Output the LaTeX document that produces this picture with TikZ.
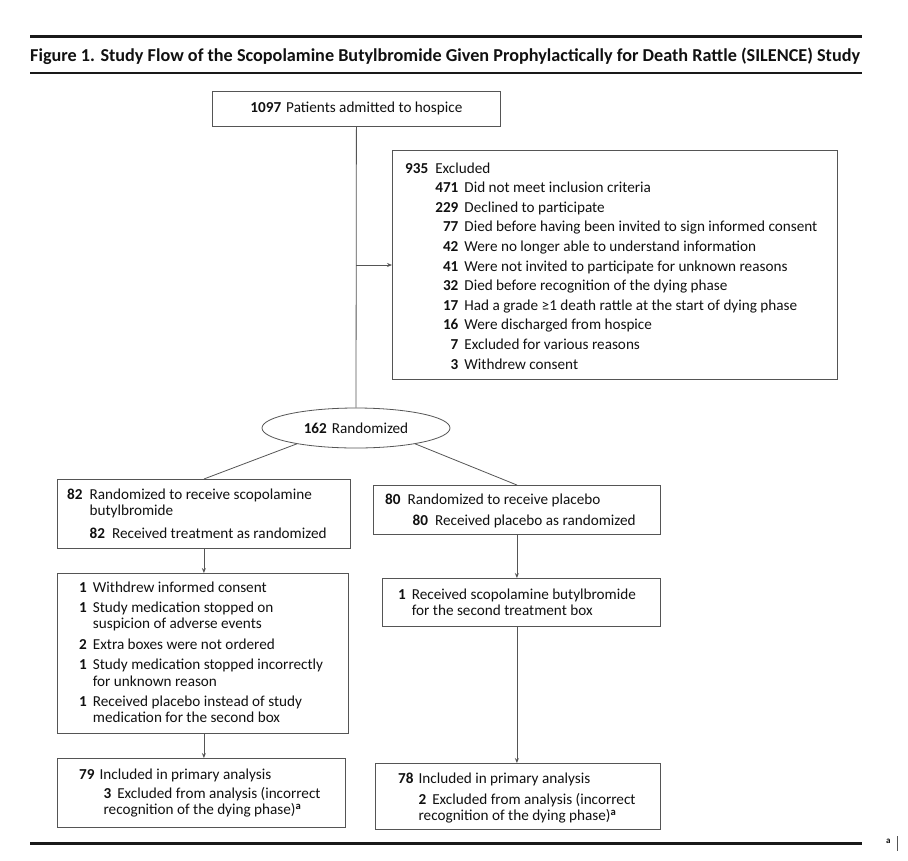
\documentclass[tikz,border=0pt]{standalone}
\usepackage{fontspec}
\setmainfont{Carlito}
\usetikzlibrary{shapes.geometric,arrows.meta}
\definecolor{ln}{HTML}{555555}
\definecolor{tx}{HTML}{111111}
\newcommand\bodyfnt{\fontsize{15.2}{16.7}\selectfont}
\newcommand\ttlfnt{\fontsize{18.2}{20}\selectfont\bfseries}
\begin{document}
\begin{tikzpicture}[x=1pt,y=-1pt,
  box/.style={draw=ln, line width=0.8pt, fill=white, inner sep=0pt, anchor=north west},
  txt/.style={anchor=base west, inner sep=0pt, text=tx, font=\bodyfnt},
  link/.style={draw=ln, line width=0.8pt},
  arr/.style={link, -{Stealth[length=5pt,width=4pt]}},
  rulethick/.style={draw=black!90, line width=3pt},
  rulethin/.style={draw=black!90, line width=2pt}
]
\useasboundingbox[fill=white] (0,0) rectangle (908,860);

% rules and title
\draw[rulethick] (30,36) -- (862,36);
\node[anchor=base west, inner sep=0pt, text=tx, font=\ttlfnt] (title) at (30,61)
  {Figure 1. Study Flow of the Scopolamine Butylbromide Given Prophylactically for Death Rattle (SILENCE) Study};
\draw[rulethin] (30,73) -- (862,73);
\draw[rulethick] (30,843) -- (862,843);
\node[anchor=base west, inner sep=0pt, text=tx, font=\fontsize{9}{9}\selectfont\bfseries] (fna) at (886,843) {a};
\draw[link] (897,836) -- (897,851);

% boxes
\node[box, minimum width=288pt, minimum height=35pt] (adm) at (212,91) {};
\node[txt, anchor=center] (admt) at (adm.center) {\textbf{1097}\hspace{5pt}Patients admitted to hospice};

\node[box, minimum width=445pt, minimum height=229pt] (exc) at (392,150) {};
\node[txt] (exct) at (405,173) {\begin{tabular}[t]{@{}r@{\hspace{7pt}}r@{\hspace{6pt}}l@{}}
\textbf{935} & \multicolumn{2}{@{}l@{}}{Excluded}\\[2.9pt]
& \textbf{471} & Did not meet inclusion criteria\\[2.9pt]
& \textbf{229} & Declined to participate\\[2.9pt]
& \textbf{77} & Died before having been invited to sign informed consent\\[2.9pt]
& \textbf{42} & Were no longer able to understand information\\[2.9pt]
& \textbf{41} & Were not invited to participate for unknown reasons\\[2.9pt]
& \textbf{32} & Died before recognition of the dying phase\\[2.9pt]
& \textbf{17} & Had a grade ≥1 death rattle at the start of dying phase\\[2.9pt]
& \textbf{16} & Were discharged from hospice\\[2.9pt]
& \textbf{7} & Excluded for various reasons\\[2.9pt]
& \textbf{3} & Withdrew consent
\end{tabular}};

\node[draw=ln, line width=0.8pt, ellipse, fill=white, minimum width=188pt, minimum height=40pt, inner sep=0pt, text=tx, font=\bodyfnt] (rand) at (356,428) {\textbf{162}\hspace{5pt}Randomized};

\node[box, minimum width=293pt, minimum height=69pt] (lb1) at (57,479) {};
\node[txt] (lb1t) at (67,499) {\begin{tabular}[t]{@{}r@{\hspace{7pt}}r@{\hspace{7pt}}l@{}}
\textbf{82} & \multicolumn{2}{@{}l@{}}{Randomized to receive scopolamine}\\
& \multicolumn{2}{@{}l@{}}{butylbromide}\\[6pt]
& \textbf{82} & Received treatment as randomized
\end{tabular}};

\node[box, minimum width=287pt, minimum height=49pt] (rb1) at (373,485) {};
\node[txt] (rb1t) at (385,504) {\begin{tabular}[t]{@{}r@{\hspace{7pt}}r@{\hspace{7pt}}l@{}}
\textbf{80} & \multicolumn{2}{@{}l@{}}{Randomized to receive placebo}\\[4.3pt]
& \textbf{\hspace{5pt}80} & Received placebo as randomized
\end{tabular}};

\node[box, minimum width=291pt, minimum height=160pt] (lb2) at (57,573) {};
\node[txt] (lb2t) at (79,592) {\begin{tabular}[t]{@{}r@{\hspace{6pt}}l@{}}
\textbf{1} & Withdrew informed consent\\[3.5pt]
\textbf{1} & Study medication stopped on\\
& suspicion of adverse events\\[3.5pt]
\textbf{2} & Extra boxes were not ordered\\[3.5pt]
\textbf{1} & Study medication stopped incorrectly\\
& for unknown reason\\[3.5pt]
\textbf{1} & Received placebo instead of study\\
& medication for the second box
\end{tabular}};

\node[box, minimum width=278pt, minimum height=48pt] (rb2) at (382,578) {};
\node[txt] (rb2t) at (398,599) {\begin{tabular}[t]{@{}r@{\hspace{6pt}}l@{}}
\textbf{1} & Received scopolamine butylbromide\\
& for the second treatment box
\end{tabular}};

\node[box, minimum width=288pt, minimum height=69pt] (lb3) at (57,758) {};
\node[txt] (lb3t) at (79,779) {\begin{tabular}[t]{@{}r@{\hspace{5pt}}r@{\hspace{6pt}}l@{}}
\textbf{79} & \multicolumn{2}{@{}l@{}}{Included in primary analysis}\\[2.5pt]
& \textbf{\hspace{4pt}3} & Excluded from analysis (incorrect\\
& \multicolumn{2}{@{}l@{}}{\hspace{4pt}recognition of the dying phase)\textsuperscript{\textbf{a}}}
\end{tabular}};

\node[box, minimum width=285pt, minimum height=66pt] (rb3) at (375,763) {};
\node[txt] (rb3t) at (398,783) {\begin{tabular}[t]{@{}r@{\hspace{5pt}}r@{\hspace{6pt}}l@{}}
\textbf{78} & \multicolumn{2}{@{}l@{}}{Included in primary analysis}\\[4.3pt]
& \textbf{2} & Excluded from analysis (incorrect\\
& \multicolumn{2}{@{}l@{}}{recognition of the dying phase)\textsuperscript{\textbf{a}}}
\end{tabular}};

% connectors
\draw[link] (adm.south) -- (rand.north);
\coordinate (exj) at (356,265);
\draw[arr] (exj) -- (exj -| exc.west);
\draw[link] (rand.195) -- (lb1.north);
\draw[link] (rand.345) -- (rb1.north);
\draw[arr] (lb1.south) -- (lb1.south |- lb2.north);
\draw[arr] (rb1.south) -- (rb1.south |- rb2.north);
\draw[arr] (lb1.south |- lb2.south) -- (lb1.south |- lb3.north);
\draw[arr] (rb1.south |- rb2.south) -- (rb1.south |- rb3.north);
\end{tikzpicture}
\end{document}
